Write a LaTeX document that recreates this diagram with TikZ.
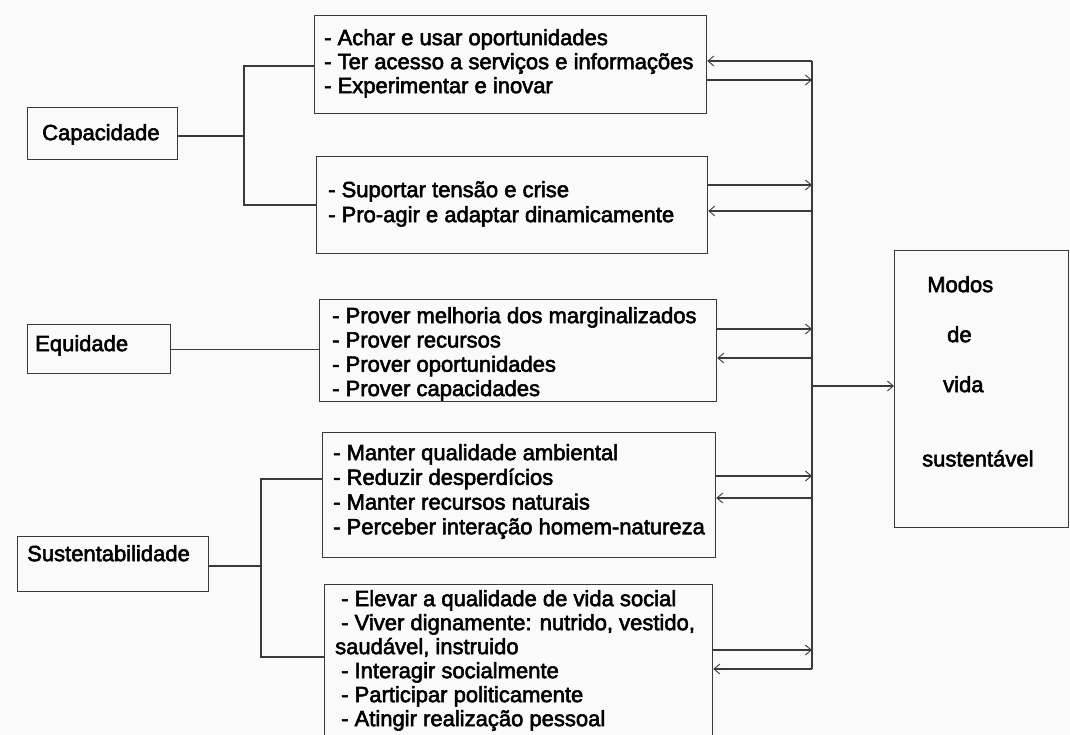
\documentclass[tikz,border=0pt]{standalone}
\usepackage{fontspec}
\setmainfont{Liberation Sans}[FakeBold=2.5]
\usetikzlibrary{arrows.meta}
\definecolor{ln}{HTML}{3A3A3A}
\definecolor{bg}{HTML}{FAFAFA}
\tikzset{
  x=1pt, y=-1pt,
  line/.style={draw=ln, line width=1.2pt},
  box/.style={draw=ln, line width=1.2pt, rectangle, inner sep=0pt, anchor=north west},
  lbl/.style={inner sep=0pt, anchor=north west, align=left, text=black},
  arr/.style={line, -{Straight Barb[length=6pt,width=10pt,line width=0.9pt]}},
}
\newcommand{\fs}[1]{\fontsize{22}{#1}\selectfont}
\begin{document}
\begin{tikzpicture}
\useasboundingbox (0,0) rectangle (1070,735);
\clip (0,0) rectangle (1070,735);
\fill[bg] (0,0) rectangle (1070,735);

% left boxes
\node[box, minimum width=150pt, minimum height=52pt] (cap) at (27,107) {};
\node[lbl, font=\fs{24}] (capt) at (42,124) {Capacidade};
\node[box, minimum width=143pt, minimum height=49pt] (eq) at (27,324) {};
\node[lbl, font=\fs{24}] (eqt) at (35,335) {Equidade};
\node[box, minimum width=191pt, minimum height=55pt] (sus) at (17,536) {};
\node[lbl, font=\fs{24}] (sust) at (27,545) {Sustentabilidade};

% middle boxes
\node[box, minimum width=392pt, minimum height=98pt] (b1) at (314,15) {};
\node[lbl, font=\fs{24}] (b1t) at (324,29) {- Achar e usar oportunidades\\- Ter acesso a serviços e informações\\- Experimentar e inovar};
\node[box, minimum width=391pt, minimum height=97pt] (b2) at (316,156) {};
\node[lbl, font=\fs{25}] (b2t) at (328,181) {- Suportar tensão e crise\\- Pro-agir e adaptar dinamicamente};
\node[box, minimum width=397pt, minimum height=102pt] (b3) at (319,299) {};
\node[lbl, font=\fs{24.3}] (b3t) at (332,307) {- Prover melhoria dos marginalizados\\- Prover recursos\\- Prover oportunidades\\- Prover capacidades};
\node[box, minimum width=393pt, minimum height=125pt] (b4) at (322,432) {};
\node[lbl, font=\fs{24.7}] (b4t) at (333,444) {- Manter qualidade ambiental\\- Reduzir desperdícios\\- Manter recursos naturais\\- Perceber interação homem-natureza};
\node[box, minimum width=388pt, minimum height=160pt] (b5) at (324,584) {};
\node[lbl, font=\fs{24}] (b5t) at (335,590) {\hspace*{6pt}- Elevar a qualidade de vida social\\\hspace*{6pt}- Viver dignamente: nutrido, vestido,\\saudável, instruido\\\hspace*{6pt}- Interagir socialmente\\\hspace*{6pt}- Participar politicamente\\\hspace*{6pt}- Atingir realização pessoal};

% right box
\node[box, minimum width=174pt, minimum height=277pt] (mv) at (894,250) {};
\node[lbl, font=\fs{24}] (mv1) at (927,276) {Modos};
\node[lbl, font=\fs{24}] (mv2) at (947,326) {de};
\node[lbl, font=\fs{24}] (mv3) at (943,376) {vida};
\node[lbl, font=\fs{24}] (mv4) at (922,450) {sustentável};

% left connectors
\coordinate (jc) at (244,136);
\coordinate (jc1) at (244,66);
\coordinate (jc2) at (244,205);
\draw[line] (cap.east |- jc) -- (jc);
\draw[line] (b1.west |- jc1) -- (jc1) -- (jc2) -- (b2.west |- jc2);
\draw[line] (eq.east) -- (eq.east -| b3.west);
\coordinate (js) at (261,566);
\coordinate (js1) at (261,479);
\coordinate (js2) at (261,657);
\draw[line] (sus.east |- js) -- (js);
\draw[line] (b4.west |- js1) -- (js1) -- (js2) -- (b5.west |- js2);

% right bus
\coordinate (bt) at (812,61);
\coordinate (bb) at (812,669);
\draw[line] (bt) -- (bb);
\coordinate (r1) at (812,80);
\coordinate (r2) at (812,185);
\coordinate (r2b) at (812,211);
\coordinate (r3) at (812,329);
\coordinate (r3b) at (812,358);
\coordinate (rm) at (812,386);
\coordinate (r4) at (812,476);
\coordinate (r4b) at (812,498);
\coordinate (r5) at (812,650);
\draw[arr] (bt) -- (bt -| b1.east);
\draw[arr] (r1 -| b1.east) -- (r1);
\draw[arr] (r2 -| b2.east) -- (r2);
\draw[arr] (r2b) -- (r2b -| b2.east);
\draw[arr] (r3 -| b3.east) -- (r3);
\draw[arr] (r3b) -- (r3b -| b3.east);
\draw[arr] (rm) -- (rm -| mv.west);
\draw[arr] (r4 -| b4.east) -- (r4);
\draw[arr] (r4b) -- (r4b -| b4.east);
\draw[arr] (r5 -| b5.east) -- (r5);
\draw[arr] (bb) -- (bb -| b5.east);
\end{tikzpicture}
\end{document}
